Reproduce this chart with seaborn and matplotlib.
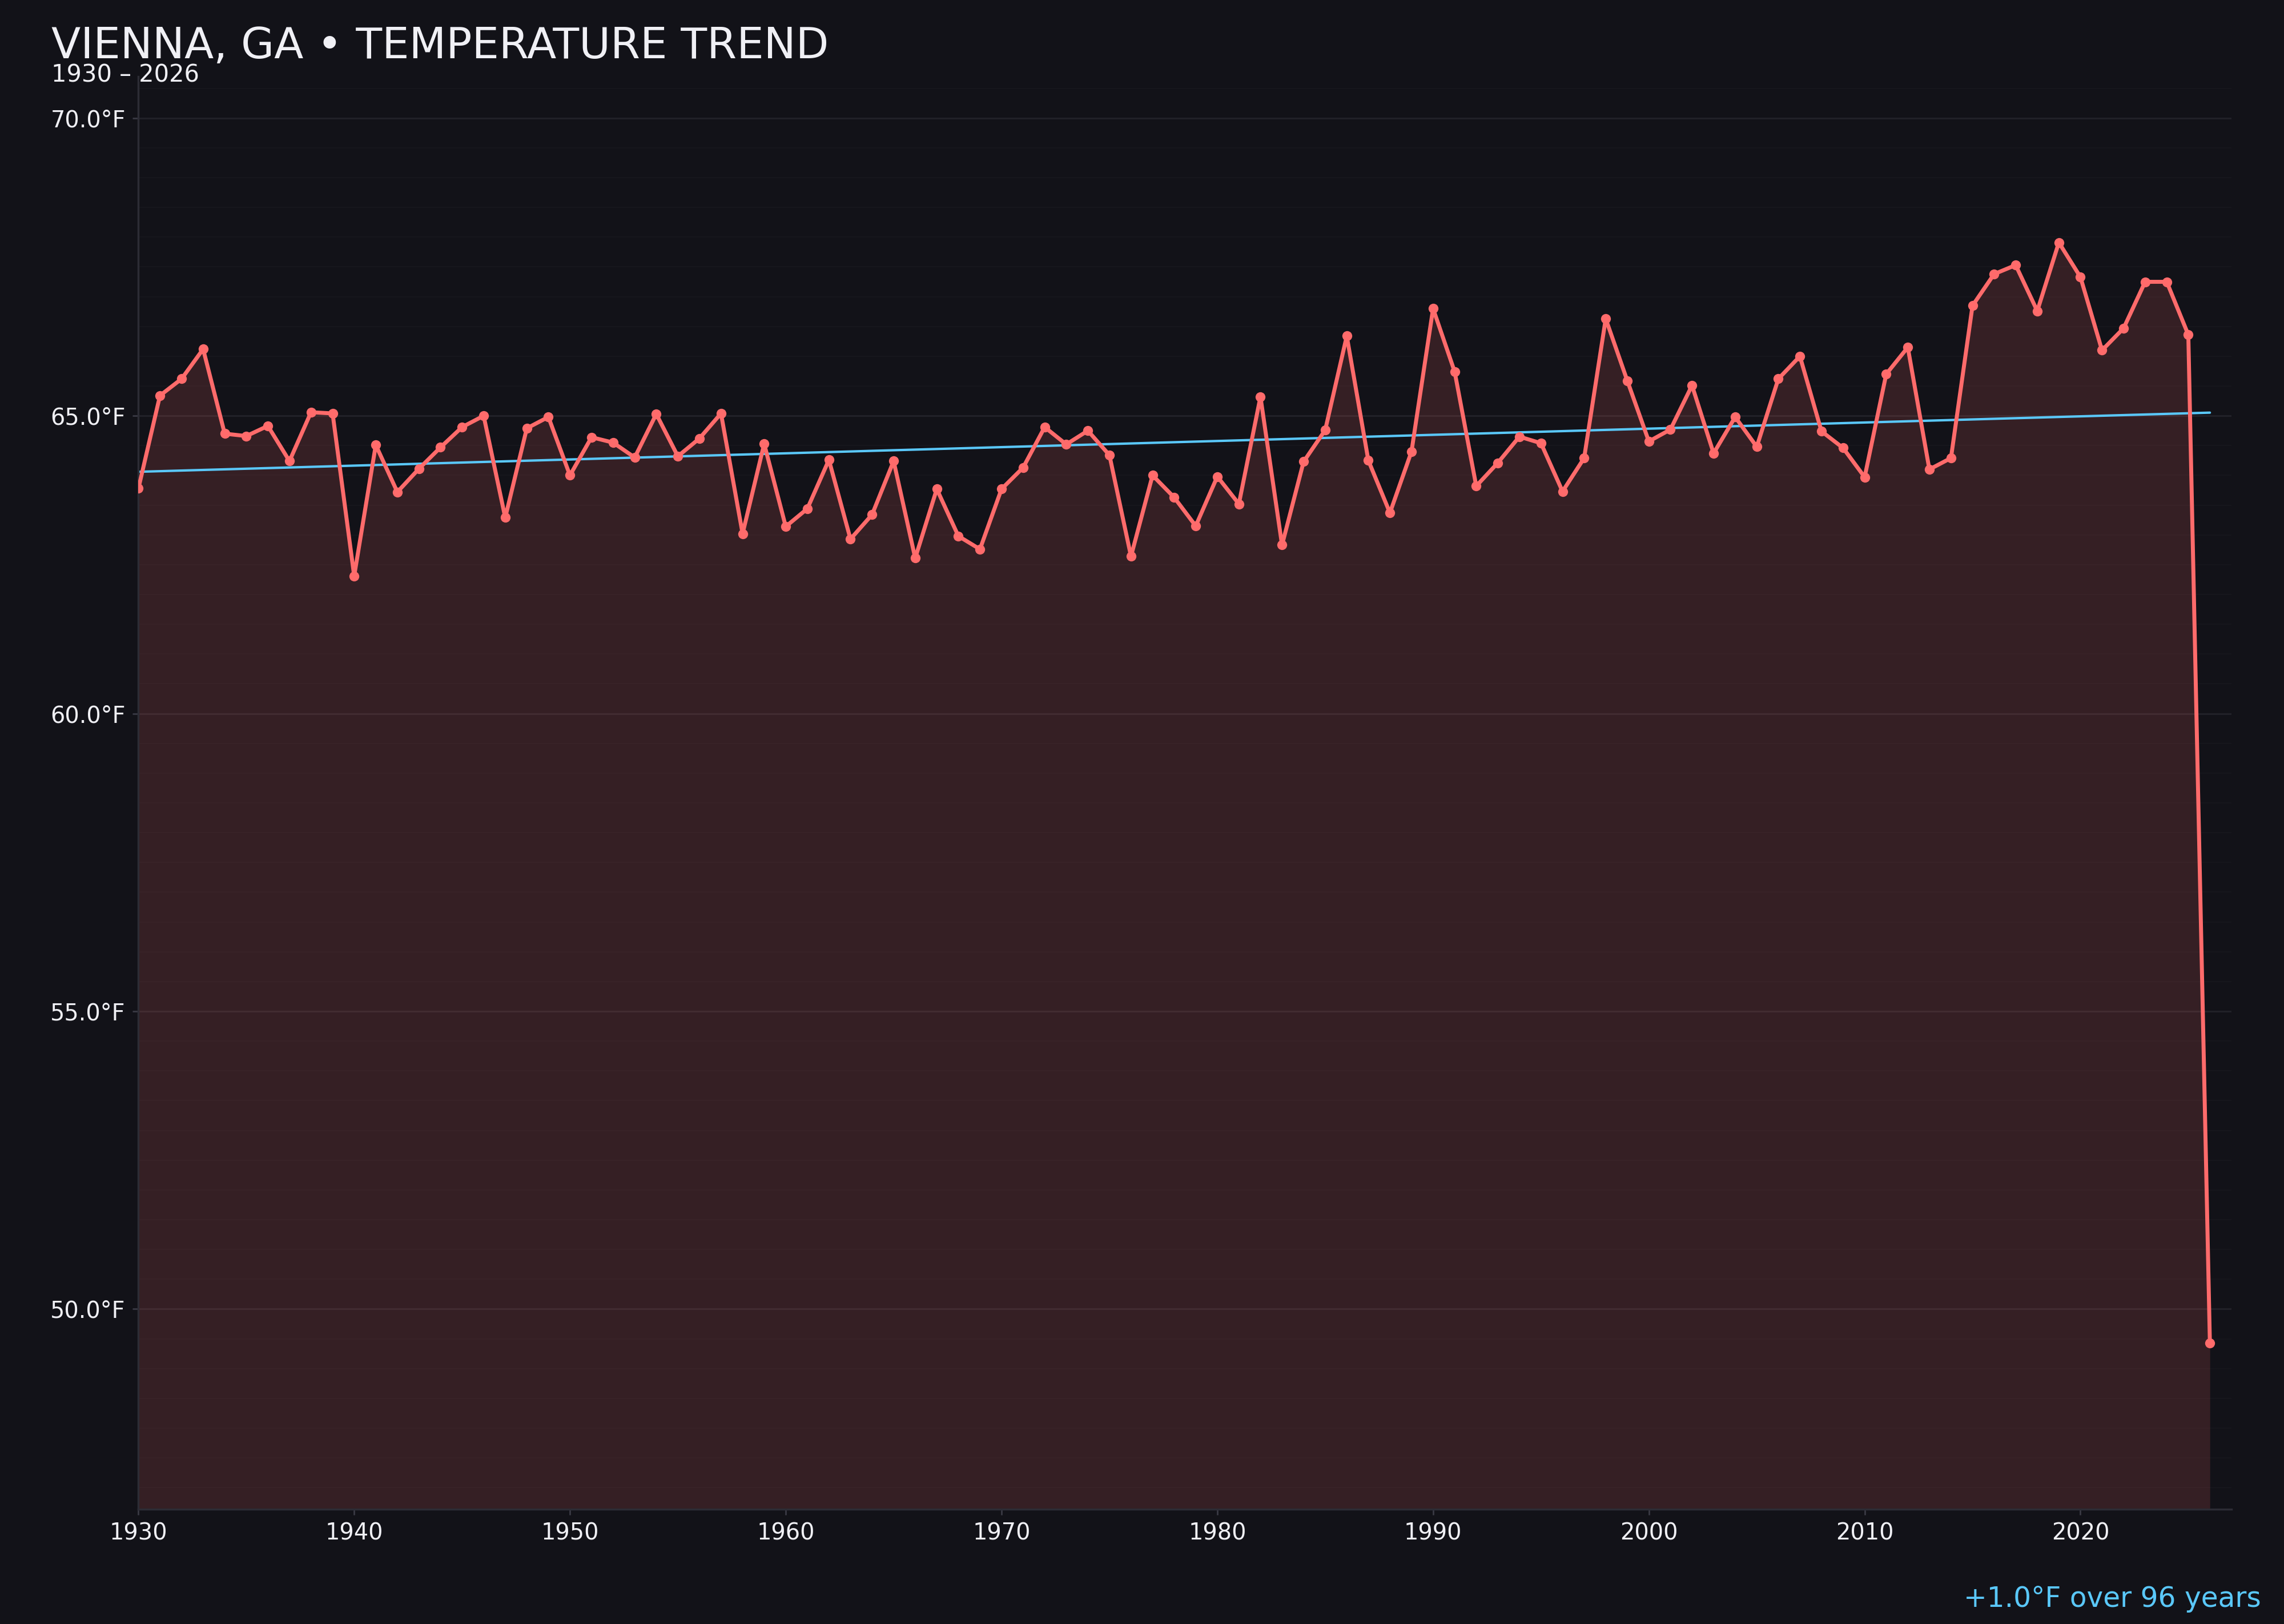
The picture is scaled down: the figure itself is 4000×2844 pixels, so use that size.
import numpy as np
import pandas as pd
import matplotlib
matplotlib.use("Agg")
import matplotlib.pyplot as plt
from matplotlib.ticker import MultipleLocator, FuncFormatter
import seaborn as sns

years = list(range(1930, 2027))
temps = [
    63.78, 65.34, 65.62, 66.12, 64.70, 64.66, 64.83, 64.24, 65.06, 65.04,  # 1930s
    62.31, 64.51, 63.72, 64.11, 64.47, 64.81, 65.00, 63.29, 64.79, 64.98,  # 1940s
    64.00, 64.64, 64.55, 64.30, 65.03, 64.32, 64.62, 65.04, 63.02, 64.53,  # 1950s
    63.14, 63.44, 64.26, 62.93, 63.34, 64.24, 62.61, 63.77, 62.98, 62.76,  # 1960s
    63.77, 64.13, 64.81, 64.52, 64.75, 64.34, 62.64, 64.00, 63.63, 63.15,  # 1970s
    63.98, 63.52, 65.32, 62.83, 64.23, 64.76, 66.34, 64.25, 63.37, 64.40,  # 1980s
    66.80, 65.74, 63.82, 64.21, 64.65, 64.54, 63.73, 64.29, 66.63, 65.59,  # 1990s
    64.57, 64.77, 65.51, 64.37, 64.98, 64.48, 65.62, 66.00, 64.74, 64.46,  # 2000s
    63.97, 65.70, 66.15, 64.10, 64.29, 66.85, 67.38, 67.53, 66.76, 67.91,  # 2010s
    67.33, 66.10, 66.47, 67.25, 67.25, 66.36, 49.43,                       # 2020s
]
x_ticks = list(range(1930, 2021, 10))
y_ticks = [50, 55, 60, 65, 70]
title = "VIENNA, GA \u2022 TEMPERATURE TREND"
subtitle = "1930 \u2013 2026"

BG = "#121218"
LINE = "#ff6b6b"
TREND = "#5ac8fa"
TEXT = "#f0f0f5"

sns.set_theme(style="dark")
plt.rcParams["font.family"] = ["DejaVu Sans"]

df = pd.DataFrame({"year": years, "temp": temps})

fig = plt.figure(figsize=(16, 11.376), dpi=250, facecolor=BG)
ax = fig.add_axes([0.0606, 0.0707, 0.9164, 0.8823])
ax.set_facecolor(BG)

tmin, tmax = min(temps), max(temps)
pad = 0.151 * (tmax - tmin)
ymin, ymax = tmin - pad, tmax + pad

ax.fill_between(df["year"], df["temp"], ymin, color=LINE, alpha=0.15, linewidth=0, zorder=1)
sns.lineplot(data=df, x="year", y="temp", ax=ax, color=LINE, linewidth=2.0,
             marker="o", markersize=5.0, markeredgewidth=0, zorder=3)

coef = np.polyfit(df["year"], df["temp"], 1)
trend = np.polyval(coef, df["year"])
sns.lineplot(x=df["year"], y=trend, ax=ax, color=TREND, linewidth=1.2, zorder=2)
change = coef[0] * (years[-1] - years[0])

ax.set_xlim(1930, 2027)
ax.set_ylim(ymin, ymax)
ax.set_xticks(x_ticks)
ax.set_yticks(y_ticks)
ax.yaxis.set_minor_locator(MultipleLocator(0.5))
ax.yaxis.set_major_formatter(FuncFormatter(lambda v, p: f"{v:.1f}\u00b0F"))
ax.grid(axis="y", which="major", color="#212128", linewidth=0.9, zorder=0)
ax.grid(axis="y", which="minor", color="#16161c", linewidth=0.6, zorder=0)
ax.grid(axis="x", visible=False)
ax.set_axisbelow(True)
ax.set_xlabel("")
ax.set_ylabel("")
for s in ["top", "right"]:
    ax.spines[s].set_visible(False)
for s in ["left", "bottom"]:
    ax.spines[s].set_color("#2c2c35")
    ax.spines[s].set_linewidth(1.0)
ax.tick_params(axis="both", which="major", colors="#3a3a44", labelcolor=TEXT,
               labelsize=11.5, length=3, width=0.8, left=True, bottom=True)
ax.tick_params(axis="y", which="minor", length=0)

fig.text(0.0225, 0.964, title, color=TEXT, fontsize=21.6, ha="left", va="baseline")
fig.text(0.0225, 0.9495, subtitle, color=TEXT, fontsize=12, ha="left", va="baseline")
fig.text(0.990, 0.0105, f"{change:+.1f}\u00b0F over {years[-1]-years[0]} years",
         color=TREND, fontsize=14, ha="right", va="baseline")

fig.savefig("out.png", dpi=250, facecolor=BG)
